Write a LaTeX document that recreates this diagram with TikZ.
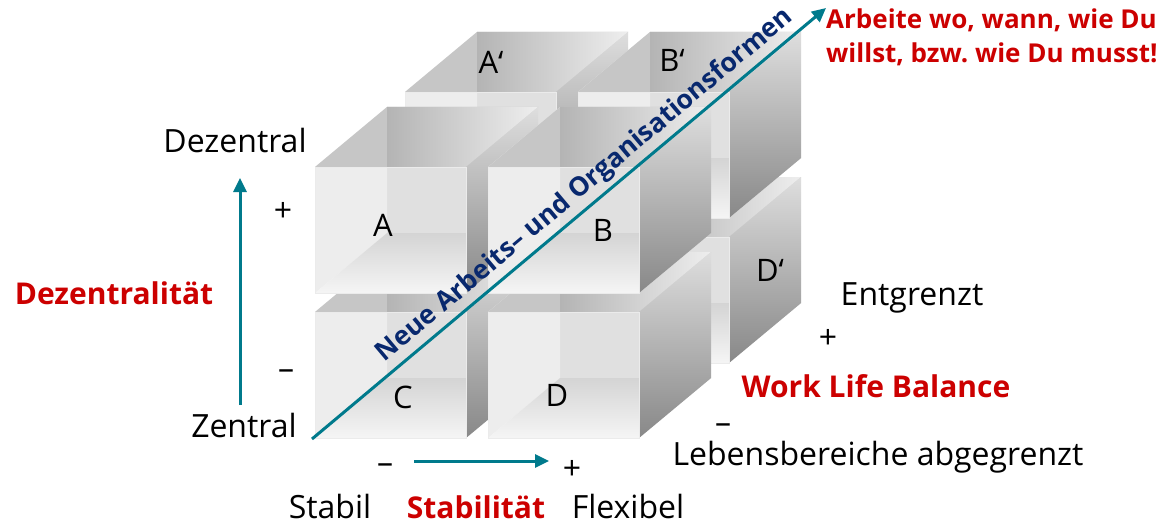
\documentclass[tikz,border=0pt]{standalone}
\usepackage{fontspec}
\setmainfont{Open Sans}
\usetikzlibrary{arrows.meta}
\definecolor{tealA}{RGB}{0,122,140}
\definecolor{navyA}{RGB}{8,40,110}
\definecolor{redA}{RGB}{204,0,0}
\definecolor{backwall}{RGB}{224,224,224}
\definecolor{leftwall}{RGB}{237,237,237}
\definecolor{topflat}{RGB}{198,198,198}
\newcommand{\opencube}[2]{%
  \begin{scope}[shift={(#1,#2)}]
    \fill[backwall] (72,-60) rectangle (223,66);
    \fill[leftwall] (0,0) -- (72,-60) -- (72,66) -- (0,126) -- cycle;
    \shade[top color={rgb,255:red,212;green,212;blue,212}, bottom color={rgb,255:red,245;green,245;blue,245}]
      (0,126) -- (72,66) -- (223,66) -- (151,126) -- cycle;
    \fill[topflat] (0,0) -- (72,-60) -- (223,-60) -- (151,0) -- cycle;
    \shade[left color={rgb,255:red,180;green,180;blue,180}, right color={rgb,255:red,238;green,238;blue,238}]
      (72,-60) -- (223,-60) -- (151,0) -- (72,0) -- cycle;
    \shade[top color={rgb,255:red,222;green,222;blue,222}, bottom color={rgb,255:red,136;green,136;blue,136}]
      (151,0) -- (223,-60) -- (223,66) -- (151,126) -- cycle;
    \draw[white!92!black, line width=0.8pt] (0,0) rectangle (151,126);
  \end{scope}}
\begin{document}
\begin{tikzpicture}[x=1pt,y=-1pt,
  lbl/.style={font=\fontsize{32}{38}\selectfont, inner sep=0pt},
  cubelbl/.style={font=\fontsize{31}{36}\selectfont, inner sep=0pt},
  redlbl/.style={font=\fontsize{30}{36}\selectfont\bfseries, text=redA, inner sep=0pt},
  axisarrow/.style={draw=tealA, line width=3pt, -{Triangle[length=14pt,width=13pt]}},
  ]
\useasboundingbox[fill=white] (0,0) rectangle (1174,524);

% back layer
\opencube{405}{237}
\opencube{578}{237}
\opencube{405}{92}
\opencube{578}{92}
% front layer
\opencube{315}{312}
\opencube{488}{312}
\opencube{315}{167}
\opencube{488}{167}

% cube labels
\node[cubelbl] (lA) at (383,225) {A};
\node[cubelbl] (lB) at (603,230) {B};
\node[cubelbl] (lC) at (403,397) {C};
\node[cubelbl] (lD) at (557,395) {D};
\node[cubelbl] (lAp) at (491,62) {A‘};
\node[cubelbl] (lBp) at (672,60) {B‘};
\node[cubelbl] (lDp) at (770,270) {D‘};

% diagonal arrow
\coordinate (dstart) at (312,439);
\coordinate (dend) at (826,8);
\draw[axisarrow] (dstart) -- (dend)
  node[pos=0.555, sloped, above, inner sep=4pt, text=navyA, font=\fontsize{26.5}{30}\selectfont\bfseries] (neue) {Neue Arbeits– und Organisationsformen};

% vertical axis
\coordinate (vstart) at (240,405);
\coordinate (vend) at (240,178);
\draw[axisarrow] (vstart) -- (vend);
\node[lbl, anchor=base] (dez) at (235,152) {Dezentral};
\node[lbl] (vplus) at (283,212) {+};
\node[lbl] (vminus) at (286,375) {–};
\node[lbl, anchor=base] (zen) at (244,437) {Zentral};
\node[redlbl, anchor=base] (dezt) at (114,304) {Dezentralität};

% horizontal axis
\coordinate (hstart) at (414,461);
\coordinate (hend) at (549,461);
\draw[axisarrow] (hstart) -- (hend);
\node[lbl] (hminus) at (385,469) {–};
\node[lbl] (hplus) at (572,470) {+};
\node[lbl, anchor=base] (stab) at (330,518) {Stabil};
\node[redlbl, anchor=base] (stabt) at (476,518) {Stabilität};
\node[lbl, anchor=base] (flex) at (628,518) {Flexibel};

% depth axis labels
\node[lbl, anchor=base] (ent) at (912,305) {Entgrenzt};
\node[lbl] (dplus) at (828,339) {+};
\node[redlbl, anchor=base] (wlb) at (876,397) {Work Life Balance};
\node[lbl] (dminus) at (723,429) {–};
\node[lbl, anchor=base] (leb) at (878,465) {Lebensbereiche abgegrenzt};

% slogan
\node[font=\fontsize{26}{34}\selectfont\bfseries, text=redA, inner sep=0pt, anchor=base west, align=left] (slogan) at (826,63) {Arbeite wo, wann, wie Du\\willst, bzw.\ wie Du musst!};
\end{tikzpicture}
\end{document}
